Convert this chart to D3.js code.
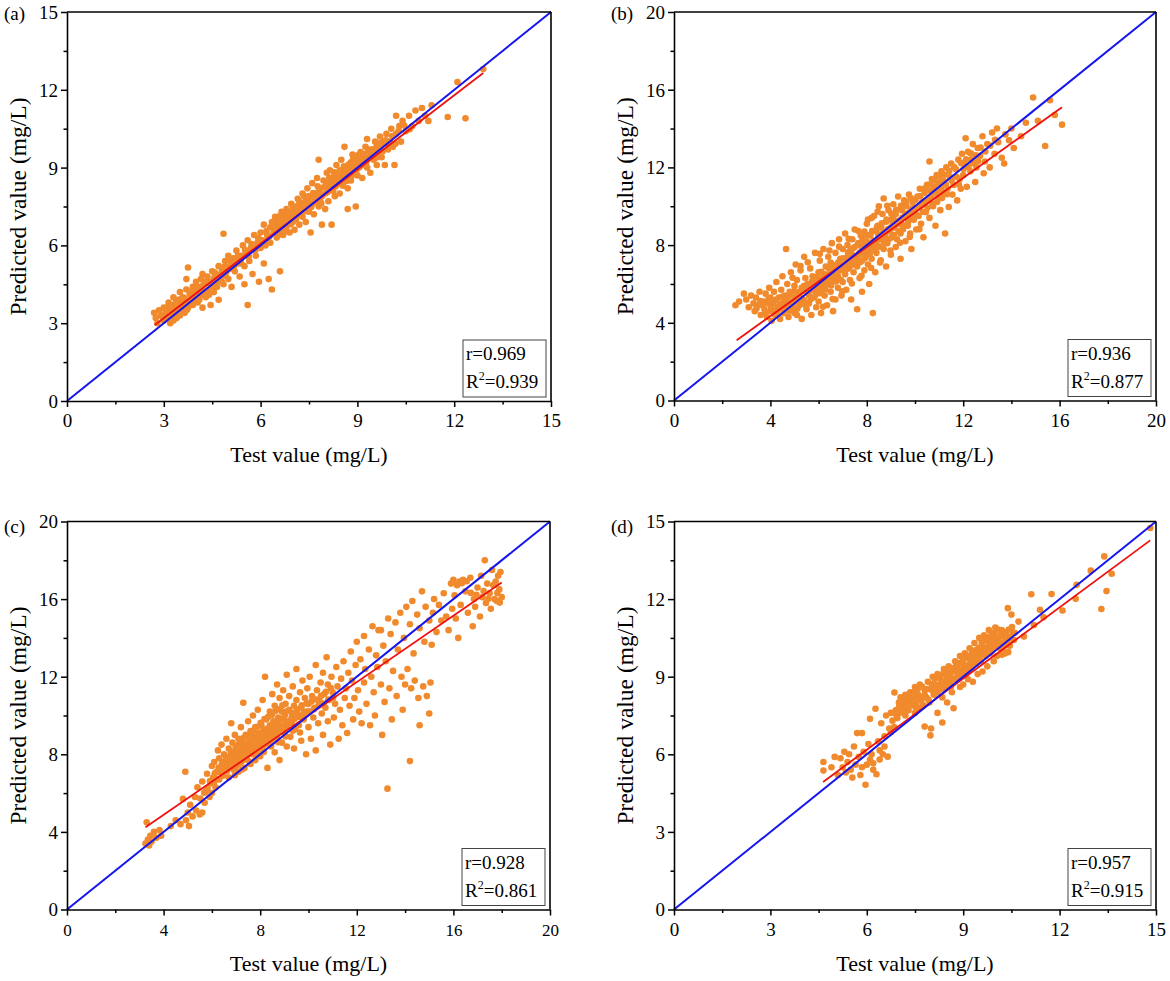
<!DOCTYPE html>
<html><head><meta charset="utf-8">
<script src="https://cdn.jsdelivr.net/npm/d3@7"></script>
<style>body{margin:0;background:#fff;} svg text{font-family:"Liberation Serif","Times New Roman",serif;fill:#000;}</style>
</head><body><svg id="c" width="1170" height="981"></svg>
<script>
const panelLabels = ["(a)","(b)","(c)","(d)"];
const axisMax = [15,20,20,15];
const tickStep = [3,4,4,3];
const rValues = ["0.969","0.936","0.928","0.957"];
const r2Values = ["0.939","0.877","0.861","0.915"];
const xTitle = "Test value (mg/L)";
const yTitle = "Predicted value (mg/L)";

const fitA = [[2.72,2.93],[12.9,12.65]];
const fitB = [[2.6,3.1],[16.1,15.1]];
const fitC = [[3.25,4.24],[18.0,16.85]];
const fitD = [[4.64,4.93],[14.82,14.27]];

const pointsA = [[2.7,3.4],[2.75,3.2],[2.8,3.0],[2.85,3.5],[2.9,3.3],[3.0,3.1],[3.0,3.6],[3.05,3.4],[3.1,3.2],[3.15,3.8],[3.2,3.5],[3.25,3.3],[3.3,3.7],[3.3,4.0],[3.35,3.4],[3.4,3.6],[3.45,3.9],[3.5,3.3],[3.5,4.2],[3.55,3.7],[3.6,3.5],[3.6,4.0],[3.65,3.8],[3.7,4.3],[3.75,3.6],[3.75,5.15],[3.8,4.1],[3.85,3.9],[3.9,4.4],[3.9,3.7],[3.95,4.2],[4.0,4.0],[4.0,4.6],[4.05,3.8],[4.1,4.3],[4.15,4.7],[4.2,4.1],[4.2,3.6],[4.25,4.5],[4.3,4.0],[4.35,4.8],[4.4,4.3],[4.45,3.7],[4.5,4.6],[4.5,5.0],[4.55,4.2],[4.6,4.8],[4.65,4.4],[4.7,5.2],[4.7,3.9],[4.75,4.7],[4.8,5.0],[4.85,6.45],[4.85,4.5],[4.9,5.4],[4.95,5.0],[5.0,4.7],[5.0,5.6],[5.05,5.2],[5.1,4.4],[5.15,5.5],[5.2,5.0],[5.25,5.8],[5.3,5.3],[5.35,4.8],[5.4,5.6],[5.45,6.0],[5.5,5.2],[5.5,4.5],[5.55,5.7],[5.6,3.7],[5.6,6.2],[5.65,5.4],[5.7,5.9],[5.75,4.9],[5.8,6.4],[5.85,5.6],[5.9,6.1],[5.95,4.6],[6.0,5.9],[6.0,6.5],[6.05,6.2],[6.1,5.3],[6.1,6.8],[6.15,6.0],[6.2,6.4],[6.25,4.7],[6.3,6.7],[6.3,6.1],[6.35,4.3],[6.35,6.9],[6.4,6.5],[6.45,7.1],[6.5,6.3],[6.5,6.8],[6.55,7.0],[6.6,6.6],[6.6,5.0],[6.65,7.3],[6.7,6.9],[6.7,6.4],[6.75,7.1],[6.8,6.7],[6.8,7.4],[6.85,7.0],[6.9,6.5],[6.9,7.3],[6.95,7.6],[7.0,6.9],[7.0,7.2],[7.05,6.6],[7.1,7.5],[7.1,7.0],[7.15,7.8],[7.2,7.3],[7.2,6.8],[7.25,7.6],[7.3,7.1],[7.3,8.0],[7.35,7.4],[7.4,6.9],[7.4,7.7],[7.45,8.2],[7.5,7.3],[7.5,7.9],[7.55,6.5],[7.6,7.6],[7.6,8.4],[7.65,7.2],[7.7,8.0],[7.7,7.7],[7.75,8.6],[7.8,7.5],[7.8,9.3],[7.85,8.2],[7.9,7.9],[7.9,6.8],[7.95,8.5],[8.0,8.0],[8.0,7.4],[8.05,8.8],[8.1,8.3],[8.1,7.7],[8.15,8.9],[8.2,6.8],[8.2,8.5],[8.25,8.1],[8.3,8.7],[8.3,7.9],[8.35,9.1],[8.4,8.4],[8.45,8.0],[8.5,8.8],[8.5,9.3],[8.55,8.3],[8.6,9.8],[8.6,8.6],[8.65,9.0],[8.7,7.4],[8.7,8.2],[8.75,8.8],[8.8,9.2],[8.8,8.5],[8.85,9.5],[8.9,8.9],[8.95,7.5],[9.0,8.7],[9.0,9.3],[9.05,9.0],[9.1,9.6],[9.15,8.6],[9.2,9.2],[9.25,9.8],[9.3,9.0],[9.3,10.1],[9.35,9.4],[9.4,8.8],[9.45,9.7],[9.5,9.3],[9.55,10.0],[9.6,9.1],[9.65,9.6],[9.7,10.2],[9.75,9.4],[9.8,9.9],[9.85,9.1],[9.9,10.3],[9.95,9.7],[10.0,10.0],[10.05,10.5],[10.1,9.8],[10.15,9.1],[10.2,10.3],[10.2,11.0],[10.3,10.6],[10.35,10.0],[10.4,10.8],[10.5,10.4],[10.6,11.0],[10.7,10.6],[10.8,11.2],[10.9,10.8],[11.0,11.3],[11.1,11.0],[11.2,10.8],[11.3,11.4],[11.8,10.95],[12.1,12.3],[12.35,10.9],[12.9,12.8],
[3.1,3.5],[3.2,3.0],[3.4,3.2],[3.5,3.8],[3.65,3.4],[3.8,3.8],[3.9,4.0],[4.05,4.4],[4.1,3.9],[4.3,4.6],[4.4,4.1],[4.6,4.5],[4.2,4.9],[3.7,4.7],[3.3,3.1],[4.8,4.6],
[6.4,6.7],[6.6,6.9],[6.7,7.2],[6.9,7.0],[7.0,7.5],[7.1,7.2],[7.2,7.7],[7.3,7.4],[7.4,7.5],[6.8,6.9],[6.55,6.4],[7.35,7.9],[7.5,7.6],[7.6,7.9],[7.75,8.0],[7.85,7.7],
[8.1,8.1],[8.2,8.3],[8.3,8.5],[8.4,8.6],[8.5,8.5],[8.6,8.9],[8.7,8.7],[8.8,8.8],[8.9,9.1],[9.0,9.0],[9.1,9.2],[9.2,9.4],[9.3,9.3],[9.4,9.6],[9.5,9.5],[9.6,9.8],[9.7,9.7],[9.8,10.0],[8.05,8.4],[8.45,8.9],[8.75,9.0],[9.05,9.3],[9.35,9.7],[9.65,9.9],
[5.2,5.4],[5.4,5.3],[5.6,5.7],[5.8,5.9],[6.0,6.2],[6.2,6.2],[5.1,5.1],[5.3,5.6]];
const pointsACore = [[2.95,3.25],[3.12,3.62],[3.27,3.48],[3.38,3.85],[3.48,3.55],[3.63,3.95],[3.72,3.52],[3.84,4.22],[3.97,3.86],[4.08,4.15],[4.18,4.42],[4.27,4.22],[4.38,4.62],[4.47,4.38],[4.58,4.95],[4.63,4.62],[4.77,4.88],[4.88,5.18],[4.92,4.82],[5.07,5.38],[5.18,5.22],[5.27,5.52],[5.38,5.47],[5.52,5.82],[5.63,5.58],[5.72,6.05],[5.84,5.82],[5.93,6.28],[6.07,6.02],[6.18,6.55],[6.27,6.33],[6.38,6.72],[6.47,6.58],[6.58,7.12],[6.63,6.78],[6.72,7.05],[6.78,6.55],[6.87,7.22],[6.93,6.82],[7.03,7.35],[7.08,7.08],[7.17,7.52],[7.23,7.18],[7.32,7.62],[7.42,7.32],[7.48,7.82],[7.57,7.48],[7.63,8.02],[7.72,7.85],[7.82,8.12],[7.88,7.62],[7.97,8.25],[8.07,8.05],[8.13,8.62],[8.22,8.18],[8.28,8.82],[8.37,8.38],[8.43,8.75],[8.52,8.55],[8.58,9.05],[8.67,8.48],[8.73,9.12],[8.82,8.68],[8.87,9.32],[8.97,8.92],[9.03,9.48],[9.12,9.08],[9.18,9.52],[9.27,9.18],[9.33,9.62],[9.42,9.42],[9.52,9.72],[9.58,9.38],[9.68,9.95],[9.78,9.62],[9.88,10.05],[9.97,9.85],[10.08,10.22],[10.18,9.92],[10.28,10.42],[10.45,10.62],[10.62,10.48],[6.52,6.92],[6.67,6.62],[6.83,7.18],[6.98,7.02],[7.13,7.42],[7.27,7.28],[7.38,7.58],[7.52,7.45],[7.67,7.72],[7.77,8.28],[3.55,3.95],[3.75,3.85],[4.35,4.55],[4.55,4.72],[8.33,8.28],[8.63,8.72],[8.92,9.18],[9.22,9.28]];

const pointsB = [[2.55,4.9],[2.7,5.1],[2.9,5.5],[3.0,5.2],[3.1,4.8],[3.2,5.4],[3.3,5.0],[3.35,4.6],[3.4,5.3],[3.5,4.9],[3.55,5.6],[3.6,4.4],[3.7,5.1],[3.75,4.7],[3.8,5.5],[3.85,4.3],[3.9,5.0],[3.95,5.8],[4.0,4.6],[4.0,5.3],
[4.05,4.1],[4.1,5.0],[4.15,5.6],[4.2,4.4],[4.25,6.1],[4.3,4.8],[4.35,5.3],[4.4,4.2],[4.45,5.7],[4.5,5.0],[4.5,6.4],[4.55,4.5],[4.6,5.4],[4.65,7.8],[4.7,4.9],[4.7,6.0],[4.75,4.3],[4.8,5.6],[4.85,6.6],[4.9,5.1],[4.95,4.6],[5.0,5.9],[5.0,5.3],[5.05,7.0],[5.1,4.4],[5.1,6.2],[5.15,5.5],[5.2,4.9],[5.25,6.7],[5.3,5.8],[5.3,4.2],[5.35,5.2],[5.4,7.4],[5.45,6.3],[5.5,4.7],[5.5,5.6],[5.55,6.0],[5.6,5.0],[5.65,6.8],[5.7,4.4],[5.7,5.7],[5.75,6.4],[5.8,5.3],[5.85,7.6],[5.9,6.1],[5.9,4.8],[5.95,5.6],[6.0,6.6],[6.0,5.1],
[6.05,7.2],[6.1,5.8],[6.1,4.5],[6.15,6.3],[6.2,7.8],[6.25,5.4],[6.3,6.9],[6.3,6.0],[6.35,4.9],[6.4,7.4],[6.45,6.5],[6.5,5.6],[6.5,7.1],[6.55,8.1],[6.6,6.2],[6.6,4.6],[6.65,6.8],[6.7,5.2],[6.7,7.6],[6.75,7.0],[6.8,6.4],[6.8,5.8],[6.85,8.3],[6.9,7.3],[6.9,6.7],[6.95,5.4],[7.0,7.8],[7.0,6.1],[7.05,7.0],[7.1,8.6],[7.1,6.5],[7.15,5.7],[7.2,7.4],[7.2,8.0],[7.25,6.8],[7.3,6.2],[7.3,7.7],[7.35,5.2],[7.4,8.3],[7.4,7.1],[7.45,6.6],[7.5,7.9],[7.5,8.8],[7.55,7.3],[7.6,4.7],[7.6,6.9],[7.65,8.1],[7.7,7.6],[7.7,6.3],[7.75,8.5],[7.8,7.2],[7.8,5.6],[7.85,7.9],[7.9,8.7],[7.9,6.7],[7.95,7.5],
[8.0,8.2],[8.0,9.1],[8.05,7.0],[8.1,7.8],[8.1,6.0],[8.15,8.5],[8.2,9.4],[8.2,7.3],[8.25,4.5],[8.3,8.0],[8.3,9.5],[8.35,6.6],[8.4,8.7],[8.4,7.6],[8.45,9.0],[8.5,8.3],[8.5,10.0],[8.55,7.1],[8.6,8.9],[8.65,9.6],[8.7,7.8],[8.7,10.4],[8.75,8.5],[8.8,9.2],[8.8,6.9],[8.85,8.1],[8.9,9.8],[8.95,8.7],[9.0,7.5],[9.0,9.3],[9.05,8.4],[9.1,10.1],[9.15,8.9],[9.2,7.9],[9.2,9.6],[9.25,8.3],[9.3,10.5],[9.35,9.1],[9.4,8.6],[9.4,7.3],[9.45,9.8],[9.5,8.9],[9.55,10.3],[9.6,9.4],[9.6,8.2],[9.65,10.0],[9.7,9.0],[9.75,10.6],[9.8,8.6],[9.8,9.7],[9.85,7.8],[9.9,10.2],[9.95,9.3],
[10.0,9.9],[10.05,8.8],[10.1,10.5],[10.15,9.5],[10.2,10.9],[10.25,9.1],[10.3,10.2],[10.35,8.4],[10.4,10.7],[10.45,9.7],[10.5,11.1],[10.55,10.3],[10.6,12.3],[10.6,9.4],[10.65,10.8],[10.7,11.4],[10.75,10.0],[10.8,11.0],[10.85,9.0],[10.9,11.6],[10.95,10.5],[11.0,11.2],[11.05,9.8],[11.1,11.8],[11.15,10.7],[11.2,11.3],[11.25,8.6],[11.3,12.0],[11.35,10.9],[11.4,9.96],[11.45,11.5],[11.5,12.2],[11.55,10.6],[11.6,11.1],[11.7,11.9],[11.75,10.3],[11.8,12.4],[11.85,11.4],[11.9,10.9],[11.95,12.7],
[12.0,11.6],[12.05,12.2],[12.1,13.5],[12.15,11.0],[12.2,12.8],[12.3,11.8],[12.35,12.4],[12.4,13.2],[12.5,11.25],[12.55,12.0],[12.6,13.0],[12.7,12.6],[12.8,13.6],[12.85,11.7],[12.9,12.3],[13.0,13.2],[13.1,12.0],[13.2,13.8],[13.3,12.7],[13.4,14.0],[13.45,13.3],[13.6,12.5],[13.7,12.2],[13.75,13.7],[13.9,13.4],[14.0,14.0],[14.1,13.0],
[14.4,13.6],[14.6,14.3],[14.9,15.6],[15.1,14.4],[15.4,13.1],[15.6,15.46],[15.8,14.7],[16.1,14.2],
[5.2,5.6],[5.4,5.9],[5.6,5.4],[5.8,6.0],[6.0,5.9],[6.2,6.3],[6.4,6.1],[6.6,6.6],[6.8,6.9],[7.0,6.8],[7.2,7.1],[7.4,7.5],[7.6,7.4],[7.8,7.8],[8.0,7.7],[8.2,8.1],[8.4,8.2],[8.6,8.4],[8.8,8.7],[9.0,8.9],[9.2,9.1],[9.4,9.3],[9.6,9.6],[9.8,9.5],[10.0,9.7],[10.2,10.0],[10.4,10.1],[10.6,10.4],[6.3,6.5],[6.7,6.3],[7.1,7.3],[7.5,7.0],[7.9,8.1],[8.3,7.8],[8.7,8.2],[9.1,9.4],[9.5,8.8],[9.9,9.9],[4.4,4.8],[4.6,5.1],[4.8,4.9],[5.0,4.5]];
const pointsBCore = [[3.42,4.72],[3.58,5.12],[3.66,4.92],[3.78,4.52],[3.92,5.22],[4.02,4.82],[4.12,4.62],[4.22,5.18],[4.28,4.55],[4.38,4.95],[4.48,4.72],[4.52,5.35],[4.62,4.88],[4.68,5.22],[4.78,4.62],[4.82,5.42],[4.92,4.85],[4.98,5.62],[5.08,5.08],[5.12,4.72],[5.22,5.32],[5.28,4.98],[5.32,5.62],[5.42,5.12],[5.48,4.88],[5.52,5.92],[5.62,5.62],[5.68,5.22],[5.72,6.12],[5.82,5.72],[5.88,5.45],[5.92,6.35],[6.02,6.12],[6.08,5.52],[6.12,6.62],[6.22,6.02],[6.28,5.72],[6.32,6.38],[6.42,6.82],[6.48,6.22],[6.52,5.92],[6.62,6.92],[6.68,6.48],[6.72,6.12],[6.82,7.12],[6.88,6.72],[6.92,6.22],[7.02,7.32],[7.08,6.92],[7.12,6.72],[7.22,7.62],[7.28,7.22],[7.32,6.92],[7.42,7.82],[7.48,7.42],[7.52,7.12],[7.62,8.02],[7.68,7.52],[7.72,7.12],[7.82,8.32],[7.88,7.62],[7.92,7.32],[8.02,8.52],[8.08,7.92],[8.12,7.52],[8.22,8.72],[8.28,8.22],[8.32,7.72],[8.42,8.92],[8.48,8.52],[8.52,7.92],[8.62,9.12],[8.68,8.62],[8.72,8.12],[8.82,9.32],[8.88,8.82],[8.92,8.32],[9.02,9.62],[9.08,9.02],[9.12,8.52],[9.22,9.82],[9.28,9.22],[9.32,8.72],[9.42,10.02],[9.48,9.42],[9.52,9.02],[9.62,10.22],[9.68,9.62],[9.72,9.22],[9.82,10.42],[9.88,9.82],[9.92,9.42],[10.02,10.32],[10.08,9.92],[10.12,9.52],[10.22,10.52],[10.28,10.12],[10.32,9.72],[10.42,10.92],[10.48,10.32],[10.52,9.92],[10.62,11.12],[10.68,10.52],[10.72,10.12],[10.82,11.32],[10.88,10.72],[10.92,10.22],[11.02,11.52],[11.08,10.92],[11.12,10.42],[11.22,11.62],[11.28,11.12],[11.32,10.62],[11.42,11.82],[11.52,11.32],[11.62,12.02],[11.72,11.52],[11.82,11.12],[11.92,12.22],[12.02,11.92],[12.12,12.42],[12.22,12.02],[12.32,12.72],[12.42,12.22],[12.52,12.62],[12.62,12.32],[12.72,13.02],[12.92,12.82],[13.12,13.12],[13.32,13.42],[5.25,6.92],[5.55,7.12],[4.92,6.32],[6.05,7.55],[6.45,7.72],[6.85,7.92],[7.25,8.32],[7.65,8.72],[8.05,9.32],[8.45,9.72],[8.85,10.02],[6.18,4.82],[6.58,5.22],[6.98,5.62],[7.38,6.02],[7.78,6.42],[8.18,6.82],[8.58,7.22],[8.98,7.72],[9.38,8.12],[9.78,8.42],[10.18,8.82]];

const pointsC = [[3.25,3.4],[3.3,4.5],[3.35,3.6],[3.4,3.3],[3.45,3.8],[3.5,3.5],[3.6,4.0],[3.7,3.7],[3.83,4.1],[3.9,3.8],
[4.3,4.3],[4.5,4.6],[4.7,4.4],[4.8,5.7],[4.9,7.1],[4.93,4.6],[5.0,5.0],[5.05,4.3],[5.1,5.4],[5.2,4.8],[5.3,5.8],[5.35,5.1],[5.4,6.3],[5.5,4.9],[5.6,5.0],[5.6,6.6],[5.7,5.5],[5.75,6.1],[5.8,7.0],[5.9,5.8],[5.95,6.5],[6.0,7.4],[6.0,6.0],
[6.05,6.8],[6.1,7.6],[6.15,6.3],[6.2,7.1],[6.25,8.2],[6.3,6.7],[6.3,7.8],[6.35,7.3],[6.4,8.5],[6.45,6.9],[6.5,7.6],[6.5,8.0],[6.55,7.2],[6.6,8.8],[6.65,7.5],[6.7,6.8],[6.7,8.3],[6.75,7.9],[6.8,9.6],[6.8,7.3],[6.85,8.6],[6.9,7.7],[6.9,8.1],[6.95,9.0],[7.0,7.4],[7.0,8.4],[7.05,7.9],[7.1,8.8],[7.1,7.1],[7.15,8.2],[7.2,9.4],[7.2,7.6],[7.25,8.6],[7.3,10.66],[7.3,8.0],[7.35,7.3],[7.4,9.0],[7.4,8.4],[7.45,7.8],[7.5,9.7],[7.5,8.2],[7.55,8.7],[7.6,7.5],[7.6,9.2],[7.65,8.5],[7.7,8.0],[7.7,10.0],[7.75,8.9],[7.8,7.7],[7.8,9.4],[7.85,8.3],[7.9,8.8],[7.9,10.3],[7.95,9.1],[8.0,7.9],
[8.0,8.6],[8.05,9.5],[8.1,10.8],[8.1,8.2],[8.15,9.0],[8.2,12.0],[8.2,8.5],[8.25,9.8],[8.3,7.3],[8.3,9.2],[8.35,8.7],[8.4,10.2],[8.4,9.5],[8.45,8.4],[8.5,11.1],[8.5,9.0],[8.55,9.7],[8.6,8.1],[8.6,10.5],[8.65,9.3],[8.7,11.6],[8.7,8.8],[8.75,9.9],[8.8,10.9],[8.8,7.7],[8.85,9.5],[8.9,10.2],[8.9,8.6],[8.95,11.3],[9.0,9.8],[9.0,9.1],[9.05,10.6],[9.1,8.4],[9.1,12.1],[9.15,9.6],[9.2,10.3],[9.2,11.0],[9.25,8.9],[9.3,9.9],[9.35,11.5],[9.4,10.5],[9.4,8.3],[9.45,9.3],[9.5,10.8],[9.5,12.4],[9.55,10.1],[9.6,9.5],[9.65,11.2],[9.7,8.7],[9.7,10.4],[9.75,11.8],[9.8,9.8],[9.85,10.9],[9.9,8.0],[9.9,10.2],[9.95,11.4],
[10.0,9.4],[10.0,10.6],[10.05,12.0],[10.1,8.8],[10.15,11.0],[10.2,9.9],[10.25,10.4],[10.3,12.6],[10.3,8.2],[10.35,11.3],[10.4,9.6],[10.45,10.8],[10.5,11.7],[10.55,10.1],[10.6,9.0],[10.6,12.2],[10.65,11.1],[10.7,10.4],[10.75,13.0],[10.8,9.7],[10.8,11.6],[10.85,10.8],[10.9,8.5],[10.95,12.0],[11.0,11.2],[11.05,9.9],[11.1,10.6],[11.15,12.5],[11.2,11.5],[11.25,8.8],[11.3,10.3],[11.35,11.9],[11.4,9.5],[11.45,12.8],[11.5,10.9],[11.55,11.4],[11.6,9.1],[11.65,12.2],[11.7,10.5],[11.75,13.3],[11.8,11.8],[11.85,9.8],[11.9,10.9],[11.95,12.6],
[12.0,13.8],[12.05,11.3],[12.1,10.2],[12.15,12.9],[12.2,9.6],[12.3,14.1],[12.3,11.7],[12.35,12.4],[12.4,10.6],[12.5,13.4],[12.55,9.5],[12.6,12.0],[12.65,14.6],[12.7,11.2],[12.75,10.0],[12.8,13.1],[12.85,12.5],[12.9,14.4],[13.0,11.6],[13.0,14.4],[13.05,9.0],[13.1,13.6],[13.15,10.7],[13.2,12.8],[13.27,6.23],[13.3,15.0],[13.35,11.4],[13.4,14.2],[13.45,9.8],[13.5,12.3],[13.6,14.8],[13.65,11.0],[13.7,13.4],[13.8,15.3],[13.85,12.0],[13.9,10.3],[13.95,14.0],
[14.0,11.6],[14.05,15.6],[14.1,12.4],[14.2,7.65],[14.2,14.7],[14.25,11.4],[14.3,15.9],[14.35,13.2],[14.4,11.8],[14.5,15.2],[14.55,10.9],[14.6,9.5],[14.6,14.5],[14.7,16.4],[14.75,11.5],[14.8,13.8],[14.85,15.6],[14.9,11.0],[15.0,10.1],[15.0,14.9],[15.05,11.7],[15.1,13.65],[15.15,15.3],[15.2,16.0],[15.3,14.3],[15.4,15.7],[15.5,14.9],[15.6,16.3],[15.7,15.1],[15.8,14.4],[15.9,16.8],[15.95,15.5],
[16.0,17.0],[16.05,16.2],[16.1,15.0],[16.2,14.0],[16.25,16.9],[16.3,15.7],[16.4,17.0],[16.5,16.4],[16.6,15.3],[16.7,17.1],[16.8,14.6],[16.85,16.0],[16.9,15.6],[17.0,16.6],[17.1,15.1],[17.15,17.2],[17.2,16.1],[17.3,18.0],[17.35,15.8],[17.4,16.8],[17.5,16.3],[17.55,15.5],[17.6,17.5],[17.7,16.0],[17.75,16.9],[17.8,15.9],[17.85,17.2],[17.9,16.5],[17.95,17.4],[18.0,16.1],
[6.6,7.4],[6.8,7.6],[7.0,7.8],[7.2,8.0],[7.4,8.2],[7.6,8.3],[7.8,8.5],[8.0,8.7],[8.2,8.9],[8.4,9.1],[8.6,9.2],[8.8,9.4],[7.1,7.5],[7.3,7.7],[7.5,8.0],[7.7,8.2],[7.9,8.0],[8.1,8.4],[8.3,8.6],[8.5,8.8],[8.7,9.0],[8.9,9.2],[9.1,9.4],[9.3,9.6],[6.9,7.2],[7.4,7.9]];
const pointsCCore = [[5.52,5.72],[5.68,6.02],[5.82,6.22],[5.92,6.62],[6.08,6.52],[6.12,7.02],[6.22,6.72],[6.28,7.32],[6.38,7.02],[6.42,7.52],[6.52,7.32],[6.58,7.82],[6.62,7.12],[6.72,7.62],[6.78,8.12],[6.82,7.42],[6.92,7.92],[6.98,8.32],[7.02,7.62],[7.08,8.12],[7.12,8.52],[7.18,7.82],[7.22,8.32],[7.28,8.82],[7.32,7.92],[7.38,8.52],[7.42,8.92],[7.48,8.12],[7.52,8.62],[7.58,9.02],[7.62,8.22],[7.68,8.72],[7.72,9.22],[7.78,8.32],[7.82,8.92],[7.88,9.42],[7.92,8.52],[7.98,9.02],[8.02,9.62],[8.08,8.62],[8.12,9.22],[8.18,9.82],[8.22,8.72],[8.28,9.32],[8.32,9.92],[8.38,8.92],[8.42,9.42],[8.48,10.02],[8.52,9.12],[8.58,9.52],[8.62,10.22],[8.68,9.22],[8.72,9.72],[8.78,10.32],[8.82,9.32],[8.88,9.82],[8.92,10.52],[8.98,9.42],[9.02,10.02],[9.08,9.62],[9.12,10.22],[9.22,9.72],[9.32,10.12],[9.42,9.82],[9.52,10.32],[9.62,9.92],[9.72,10.52],[9.82,10.12],[9.92,10.62],[10.02,10.22],[10.12,10.72],[10.22,10.32],[10.32,10.82],[10.42,10.52],[10.52,11.02],[10.62,10.62],[10.72,11.22],[10.82,10.82],[10.92,11.42],[11.02,10.92],[6.95,6.92],[7.25,7.22],[7.55,7.62],[7.85,7.92],[8.15,8.12],[8.45,8.52],[8.75,8.62],[9.05,8.92],[9.35,9.22],[9.65,9.12],[16.15,16.72],[16.35,16.82],[16.55,16.92],[17.25,16.42],[17.45,16.02],[17.65,16.72],[17.82,16.32],[17.92,15.82],[16.72,16.32],[16.95,16.22]];

const pointsD = [[4.65,5.7],[4.65,5.37],[4.9,5.5],[5.0,5.9],[5.1,5.2],[5.18,5.85],[5.25,5.5],[5.3,6.1],[5.35,5.3],[5.4,5.7],[5.45,6.0],[5.5,5.4],[5.55,5.1],[5.6,6.3],[5.65,5.6],[5.7,6.82],[5.75,5.9],[5.8,5.2],[5.85,6.82],[5.85,5.5],[5.9,6.1],[5.96,4.82],[6.0,5.6],[6.05,6.4],[6.1,7.37],[6.1,5.8],[6.15,6.0],[6.2,5.4],[6.27,7.76],[6.3,5.23],[6.35,6.5],[6.4,5.8],[6.45,7.2],[6.5,6.0],[6.55,6.7],[6.6,7.5],[6.65,5.91],[6.7,7.0],
[6.75,7.6],[6.8,7.3],[6.86,8.39],[6.9,7.7],[6.95,7.4],[7.0,8.0],[7.0,7.6],[7.05,8.2],[7.1,7.8],[7.15,8.0],[7.2,7.5],[7.2,8.3],[7.25,7.9],[7.3,8.1],[7.3,7.7],[7.35,8.4],[7.4,7.9],[7.45,8.2],[7.5,7.6],[7.5,8.6],[7.55,8.0],[7.6,8.3],[7.6,7.8],[7.65,8.7],[7.7,8.1],[7.75,7.9],[7.8,8.5],[7.8,7.07],[7.85,8.2],[7.9,8.8],[7.95,8.0],[7.98,6.73],[8.0,8.5],[8.0,7.0],[8.05,9.0],[8.1,8.3],[8.15,8.7],[8.2,7.6],[8.2,9.1],[8.25,8.5],[8.3,8.9],[8.35,7.23],[8.35,8.2],[8.4,9.3],[8.45,8.7],[8.5,9.0],[8.5,8.0],[8.55,9.4],[8.6,8.8],[8.65,8.4],[8.7,9.2],[8.7,7.78],[8.75,9.6],[8.8,8.9],[8.85,9.3],[8.9,8.6],[8.9,9.8],[8.95,9.1],[9.0,9.5],[9.0,8.7],[9.05,9.9],[9.1,9.2],[9.15,8.9],[9.2,9.7],[9.2,10.1],[9.25,9.3],[9.3,8.8],[9.3,9.9],[9.35,10.3],[9.4,9.5],[9.45,9.1],[9.5,10.0],[9.5,10.5],[9.55,9.6],[9.6,9.2],[9.6,10.2],[9.65,10.6],[9.7,9.8],[9.75,9.4],[9.8,10.3],[9.8,10.8],[9.85,9.9],[9.9,10.5],[9.95,9.6],[10.0,10.2],[10.0,10.9],[10.05,9.8],[10.1,10.5],[10.15,10.1],[10.2,10.8],[10.25,10.3],[10.3,9.9],[10.35,10.6],[10.39,11.65],[10.45,10.2],[10.5,11.4],[10.55,10.7],[10.6,10.7],[10.72,11.13],[10.89,10.55],
[11.12,12.19],[11.2,11.0],[11.39,11.59],[11.5,11.3],[11.75,12.2],[12.09,11.56],[12.5,12.01],[12.53,12.55],[12.97,13.1],[13.3,11.62],[13.39,13.65],[13.46,12.31],[13.62,12.98],[14.82,14.75],
[8.1,8.5],[8.3,8.6],[8.5,8.7],[8.7,8.9],[8.9,9.0],[9.1,9.3],[9.3,9.5],[9.5,9.7],[9.7,9.9],[9.9,10.1],[8.2,8.4],[8.4,8.8],[8.6,9.0],[8.8,9.2],[9.0,9.3],[9.2,9.5],[9.4,9.8],[9.6,10.0],[9.8,10.0],[10.0,10.4],[7.4,8.1],[7.6,8.2],[7.8,8.3],[7.2,7.8],[7.0,7.8]];
const pointsDCore = [[6.92,7.52],[7.02,7.92],[7.12,7.62],[7.18,8.12],[7.28,7.82],[7.32,8.32],[7.38,8.02],[7.48,8.42],[7.52,7.82],[7.58,8.52],[7.62,8.12],[7.72,8.62],[7.78,8.22],[7.88,8.52],[7.92,8.12],[8.02,8.72],[8.08,8.32],[8.12,8.92],[8.18,8.52],[8.28,9.02],[8.32,8.72],[8.38,9.12],[8.42,8.52],[8.48,9.22],[8.52,8.82],[8.58,9.12],[8.62,8.62],[8.68,9.32],[8.72,8.92],[8.78,9.42],[8.82,9.02],[8.88,9.52],[8.92,9.22],[8.98,9.62],[9.02,9.12],[9.08,9.72],[9.12,9.42],[9.18,9.82],[9.22,9.32],[9.28,9.92],[9.32,9.62],[9.38,10.02],[9.42,9.72],[9.48,10.12],[9.52,9.82],[9.58,10.32],[9.62,9.92],[9.68,10.42],[9.72,10.12],[9.78,10.52],[9.82,10.22],[9.88,10.62],[9.92,10.32],[9.98,10.72],[10.02,10.52],[10.08,10.82],[10.12,10.32],[10.18,10.62],[10.22,10.12],[10.28,10.52],[10.32,10.72],[10.38,10.42],[10.42,10.82],[10.48,10.52],[10.52,10.92],[10.58,10.42],[10.3,10.2],[10.4,9.95],[10.2,9.85],[10.45,10.45],[6.2,5.65],[6.4,6.15],[6.55,6.3],[6.75,6.85],[6.85,7.05]];

const pointSets = [pointsA.concat(pointsACore), pointsB.concat(pointsBCore), pointsC.concat(pointsCCore), pointsD.concat(pointsDCore)];
const fitLines = [fitA, fitB, fitC, fitD];

// layout (pixel frames for the four panels)
const frames = [
  {L:67, R:551, T:12, B:401, labY:20, xTickFont:19},
  {L:674, R:1156, T:12, B:400.5, labY:20, xTickFont:19},
  {L:67, R:550, T:521.5, B:909.5, labY:533, xTickFont:17},
  {L:674, R:1156, T:521.5, B:909.5, labY:533, xTickFont:19}
];

const svg = d3.select("#c");
const SERIF = '"Liberation Serif","Times New Roman",serif';

frames.forEach((f, i) => {
  const max = axisMax[i], step = tickStep[i];
  const x = d3.scaleLinear().domain([0, max]).range([f.L, f.R]);
  const y = d3.scaleLinear().domain([0, max]).range([f.B, f.T]);
  const g = svg.append("g");

  g.append("g").selectAll("circle").data(pointSets[i]).join("circle")
    .attr("cx", d => x(d[0])).attr("cy", d => y(d[1]))
    .attr("r", 3.3).attr("fill", "#F08A2C");

  const fl = fitLines[i];
  g.append("line")
    .attr("x1", x(fl[0][0])).attr("y1", y(fl[0][1]))
    .attr("x2", x(fl[1][0])).attr("y2", y(fl[1][1]))
    .attr("stroke", "#EE1111").attr("stroke-width", 1.8);

  g.append("line")
    .attr("x1", x(0)).attr("y1", y(0)).attr("x2", x(max)).attr("y2", y(max))
    .attr("stroke", "#1515EE").attr("stroke-width", 2);

  const majors = d3.range(0, max + 1e-9, step);
  const minors = d3.range(step / 2, max, step);

  const xMinor = g.append("g").attr("transform", `translate(0,${f.B})`)
    .call(d3.axisBottom(x).tickValues(minors).tickSize(3.5).tickFormat(""));
  xMinor.select(".domain").remove();
  const yMinor = g.append("g").attr("transform", `translate(${f.L},0)`)
    .call(d3.axisLeft(y).tickValues(minors).tickSize(3.5).tickFormat(""));
  yMinor.select(".domain").remove();

  const xAx = g.append("g").attr("transform", `translate(0,${f.B})`)
    .call(d3.axisBottom(x).tickValues(majors).tickSize(6).tickSizeOuter(0).tickFormat(d3.format("d")));
  xAx.selectAll("text").attr("y", 26).attr("dy", 0)
    .attr("font-family", SERIF).attr("font-size", f.xTickFont).attr("fill", "#000");
  const yAx = g.append("g").attr("transform", `translate(${f.L},0)`)
    .call(d3.axisLeft(y).tickValues(majors).tickSize(6).tickSizeOuter(0).tickFormat(d3.format("d")));
  yAx.selectAll("text").attr("x", -9).attr("dy", "0.34em")
    .attr("font-family", SERIF).attr("font-size", 19).attr("fill", "#000");
  [xAx, yAx, xMinor, yMinor].forEach(a => {
    a.attr("font-family", SERIF);
    a.selectAll("line").attr("stroke", "#000").attr("stroke-width", 1.5);
    a.selectAll(".domain").attr("stroke", "#000").attr("stroke-width", 1.6);
  });

  g.append("line").attr("x1", x(0)).attr("x2", x(max)).attr("y1", y(max)).attr("y2", y(max))
    .attr("stroke", "#000").attr("stroke-width", 1.6);
  g.append("line").attr("x1", x(max)).attr("x2", x(max)).attr("y1", y(0)).attr("y2", y(max))
    .attr("stroke", "#000").attr("stroke-width", 1.6);

  g.append("text").attr("x", (f.L + f.R) / 2).attr("y", f.B + 61)
    .attr("text-anchor", "middle").attr("font-size", 22).attr("font-family", SERIF).text(xTitle);
  g.append("text").attr("transform", `translate(${f.L - 41},${(f.T + f.B) / 2}) rotate(-90)`)
    .attr("text-anchor", "middle").attr("font-size", 23.5).attr("font-family", SERIF).text(yTitle);

  g.append("text").attr("x", f.L - 63).attr("y", f.labY)
    .attr("font-size", 19).attr("font-family", SERIF).text(panelLabels[i]);

  const bw = 83, bh = 57;
  const bx = x(max) - 5 - bw, by = y(0) - 4 - bh;
  g.append("rect").attr("x", bx).attr("y", by).attr("width", bw).attr("height", bh)
    .attr("fill", "#fff").attr("stroke", "#444").attr("stroke-width", 1);
  g.append("text").attr("x", bx + 3).attr("y", by + 20).attr("font-size", 19)
    .attr("font-family", SERIF).text("r=" + rValues[i]);
  const t2 = g.append("text").attr("x", bx + 3).attr("y", by + 48).attr("font-size", 19)
    .attr("font-family", SERIF);
  t2.append("tspan").text("R");
  t2.append("tspan").attr("font-size", 12).attr("dy", -8).text("2");
  t2.append("tspan").attr("dy", 8).text("=" + r2Values[i]);
});
</script></body></html>
